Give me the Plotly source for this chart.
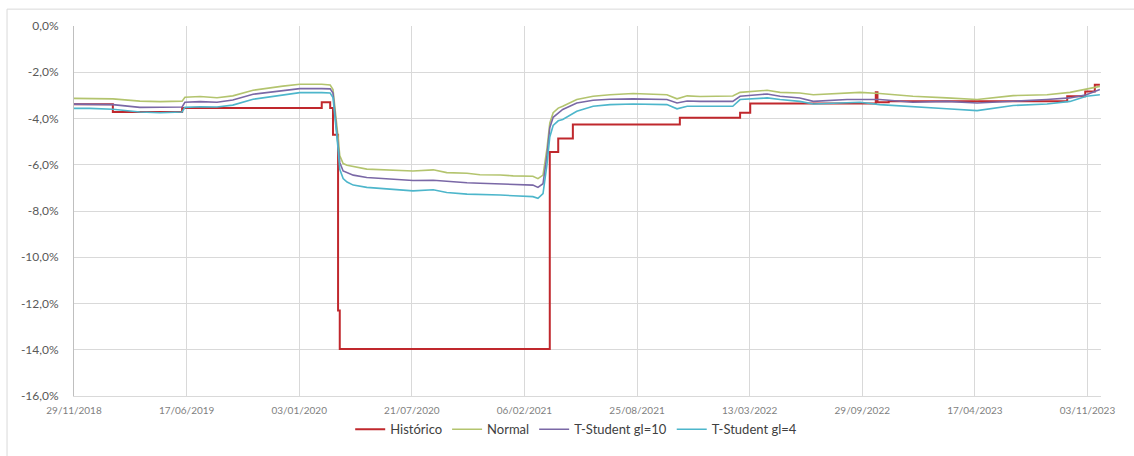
import plotly.graph_objects as go

# ---------------- data ----------------
hist_dates = ["2018-11-29", "2019-02-06", "2019-06-09", "2020-02-12", "2020-02-27",
              "2020-03-03", "2020-03-12", "2020-03-15", "2021-03-23", "2021-04-07",
              "2021-05-03", "2021-11-09", "2022-02-24", "2022-03-14", "2022-10-23",
              "2022-10-26", "2022-11-15", "2023-09-28", "2023-10-30", "2023-11-16",
              "2023-11-25"]
hist_vals = [-3.38, -3.72, -3.55, -3.30, -3.55,
             -4.70, -12.30, -13.97, -5.45, -4.87,
             -4.26, -3.97, -3.75, -3.35, -2.87,
             -3.30, -3.25, -3.04, -2.83, -2.54,
             -2.54]

dates = ["2018-11-29", "2018-12-27", "2019-02-06", "2019-03-26", "2019-05-01",
         "2019-06-09", "2019-06-14", "2019-07-11", "2019-08-10", "2019-09-07",
         "2019-10-13", "2019-12-05", "2020-01-04", "2020-02-12", "2020-02-27",
         "2020-03-03", "2020-03-07", "2020-03-12", "2020-03-15", "2020-03-21",
         "2020-03-28", "2020-04-08", "2020-05-02", "2020-07-23", "2020-08-28",
         "2020-09-21", "2020-10-27", "2020-11-19", "2020-12-25", "2021-01-17",
         "2021-02-21", "2021-03-02", "2021-03-11", "2021-03-18", "2021-03-23",
         "2021-03-29", "2021-04-07", "2021-04-15", "2021-05-10", "2021-06-08",
         "2021-07-08", "2021-08-18", "2021-10-17", "2021-11-04", "2021-11-22",
         "2021-12-15", "2022-02-11", "2022-02-24", "2022-04-13", "2022-05-06",
         "2022-06-10", "2022-07-04", "2022-09-02", "2022-09-25", "2022-10-30",
         "2022-12-28", "2023-02-26", "2023-04-21", "2023-06-24", "2023-08-23",
         "2023-10-03", "2023-11-01", "2023-11-25"]

normal_vals = [-3.13, -3.13, -3.15, -3.25, -3.27,
               -3.25, -3.08, -3.05, -3.10, -3.02,
               -2.78, -2.60, -2.52, -2.52, -2.55,
               -2.75, -3.60, -4.80, -5.60, -5.95,
               -6.02, -6.08, -6.19, -6.27, -6.22,
               -6.34, -6.37, -6.43, -6.44, -6.48,
               -6.50, -6.60, -6.45, -5.30, -4.20,
               -3.75, -3.55, -3.47, -3.18, -3.04,
               -2.97, -2.92, -2.97, -3.15, -3.02,
               -3.05, -3.03, -2.87, -2.78, -2.87,
               -2.90, -2.97, -2.90, -2.87, -2.92,
               -3.04, -3.11, -3.18, -3.01, -2.97,
               -2.87, -2.72, -2.61]

t10_vals = [-3.38, -3.38, -3.40, -3.52, -3.52,
            -3.50, -3.30, -3.27, -3.30, -3.20,
            -2.95, -2.79, -2.71, -2.71, -2.72,
            -2.90, -3.80, -5.00, -5.90, -6.27,
            -6.34, -6.45, -6.55, -6.68, -6.67,
            -6.72, -6.78, -6.80, -6.84, -6.86,
            -6.88, -6.98, -6.82, -5.60, -4.40,
            -3.95, -3.75, -3.61, -3.33, -3.21,
            -3.17, -3.15, -3.18, -3.33, -3.24,
            -3.26, -3.26, -3.04, -2.94, -3.04,
            -3.11, -3.26, -3.18, -3.18, -3.18,
            -3.30, -3.26, -3.33, -3.26, -3.18,
            -3.11, -2.97, -2.75]

t4_vals = [-3.56, -3.56, -3.60, -3.72, -3.75,
           -3.72, -3.52, -3.49, -3.50, -3.42,
           -3.17, -2.98, -2.88, -2.88, -2.90,
           -3.10, -4.00, -5.30, -6.20, -6.60,
           -6.75, -6.88, -6.98, -7.13, -7.08,
           -7.20, -7.27, -7.28, -7.31, -7.34,
           -7.38, -7.45, -7.25, -6.00, -4.80,
           -4.30, -4.10, -4.04, -3.69, -3.47,
           -3.40, -3.37, -3.40, -3.58, -3.47,
           -3.47, -3.47, -3.18, -3.11, -3.18,
           -3.26, -3.37, -3.30, -3.30, -3.40,
           -3.50, -3.58, -3.66, -3.44, -3.37,
           -3.26, -3.04, -2.97]

x_tick_vals = ["2018-11-29", "2019-06-17", "2020-01-03", "2020-07-21", "2021-02-06",
               "2021-08-25", "2022-03-13", "2022-09-29", "2023-04-17", "2023-11-03"]
x_tick_text = ["29/11/2018", "17/06/2019", "03/01/2020", "21/07/2020", "06/02/2021",
               "25/08/2021", "13/03/2022", "29/09/2022", "17/04/2023", "03/11/2023"]
y_tick_vals = [0, -2, -4, -6, -8, -10, -12, -14, -16]
y_tick_text = ["0,0%", "-2,0%", "-4,0%", "-6,0%", "-8,0%", "-10,0%", "-12,0%", "-14,0%", "-16,0%"]

# ---------------- figure ----------------
fig = go.Figure()
fig.add_trace(go.Scatter(x=hist_dates, y=hist_vals, name="Histórico", mode="lines",
                         line=dict(color="#C0282D", width=2, shape="hv")))
fig.add_trace(go.Scatter(x=dates, y=normal_vals, name="Normal", mode="lines",
                         line=dict(color="#B3C46E", width=1.6)))
fig.add_trace(go.Scatter(x=dates, y=t10_vals, name="T-Student gl=10", mode="lines",
                         line=dict(color="#7A68A6", width=1.6)))
fig.add_trace(go.Scatter(x=dates, y=t4_vals, name="T-Student gl=4", mode="lines",
                         line=dict(color="#4DB6CB", width=1.6)))

fig.update_layout(
    width=1134, height=456,
    margin=dict(l=74, r=33, t=26, b=57),
    paper_bgcolor="white", plot_bgcolor="white",
    font=dict(family="Lato, Open Sans, sans-serif", color="#595959"),
    showlegend=True,
    legend=dict(orientation="h", x=0.489, xanchor="center", y=-0.09, yanchor="middle",
                font=dict(size=13, color="#404040"), itemwidth=30, traceorder="normal"),
    xaxis=dict(type="date", range=["2018-11-29", "2023-11-27"],
               tickmode="array", tickvals=x_tick_vals, ticktext=x_tick_text,
               showgrid=True, gridcolor="#D9D9D9", gridwidth=1,
               showline=True, linecolor="#D9D9D9", linewidth=1,
               ticks="", ticklabelstandoff=5, tickfont=dict(size=10, color="#7F7F7F"),
               zeroline=False),
    yaxis=dict(range=[-16, 0], tickmode="array", tickvals=y_tick_vals, ticktext=y_tick_text,
               showgrid=True, gridcolor="#D9D9D9", gridwidth=1,
               showline=True, linecolor="#BFBFBF", linewidth=1,
               ticks="", ticklabelstandoff=12,
               tickfont=dict(size=12, color="#595959"), zeroline=False),
    shapes=[
        dict(type="line", xref="paper", yref="paper", x0=-0.0652, x1=1.1, y0=1.0456, y1=1.0456,
             line=dict(color="#D9D9D9", width=1)),
        dict(type="line", xref="paper", yref="paper", x0=-0.0652, x1=-0.0652, y0=-0.3, y1=1.0456,
             line=dict(color="#D9D9D9", width=1)),
    ],
)

fig.write_html("out.html")
